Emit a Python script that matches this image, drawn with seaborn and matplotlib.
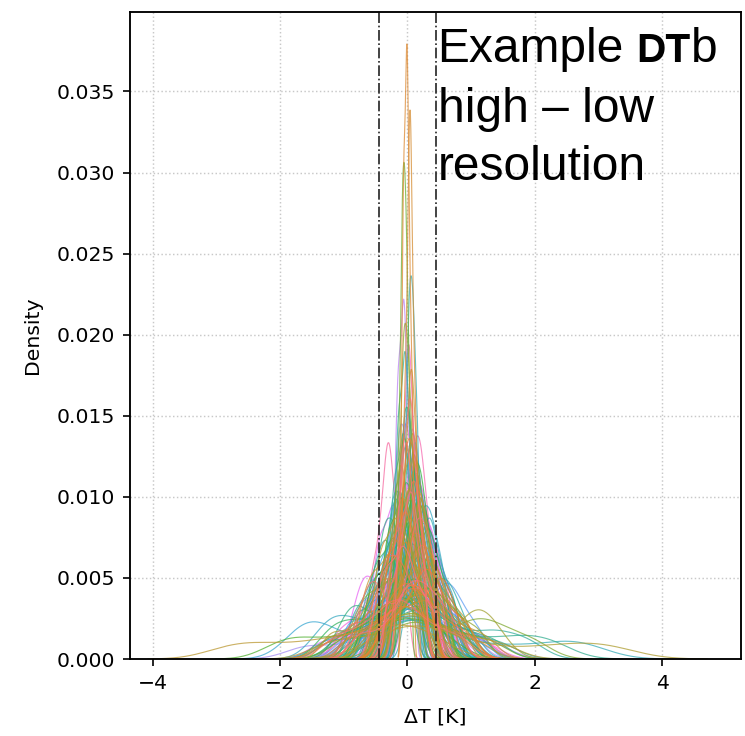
import pandas as pd
import matplotlib
matplotlib.use("Agg")
import matplotlib.pyplot as plt
import seaborn as sns

sns.set_style("ticks", {"axes.edgecolor": "black", "xtick.color": "black",
                        "ytick.color": "black", "text.color": "black",
                        "axes.labelcolor": "black"})
plt.rcParams['font.family'] = ['DejaVu Sans']
plt.rcParams['font.size'] = 9.8

# standardised sample offsets used for the "core" regions
TEMPLATES = [
    [-1.6, -1.0, -0.55, -0.2, 0.0, 0.2, 0.55, 1.0, 1.6],
    [-1.3, -0.85, -0.6, -0.15, 0.1, 0.3, 0.7, 1.15, 1.75],
    [-1.9, -1.1, -0.45, -0.3, 0.0, 0.35, 0.5, 0.95, 1.35],
]

# spread [K] of each core region (read from peak heights / widths)
CORE_SPREADS = [
    0.22, 0.30, 0.45, 0.17, 0.13, 0.25, 0.62, 0.19, 0.34,
    0.52, 0.23, 0.16, 0.41, 0.27, 0.21, 0.70, 0.055, 0.31,
    0.067, 0.24, 0.48, 0.18, 0.32, 0.28, 0.127, 0.58, 0.22,
    0.36, 0.20, 0.26, 0.85, 0.15, 0.44, 0.23, 0.29, 0.55,
    0.19, 0.34, 0.25, 0.64, 0.17, 0.105, 0.31, 0.47, 0.22,
    0.27, 0.42, 0.16, 0.24, 0.75, 0.071, 0.30, 0.21, 0.50,
    0.23, 0.33, 0.18, 0.60, 0.26, 0.20, 0.36, 0.28, 0.14,
    0.46, 0.22, 0.31, 0.17, 0.68, 0.25, 0.32, 0.21, 0.53,
    0.27, 0.15, 0.43, 0.23, 0.80, 0.19, 0.31, 0.11, 0.35,
    0.22, 0.57, 0.26, 0.29, 0.18, 0.092, 0.44, 0.24, 0.62,
    0.20, 0.34, 0.28, 0.49, 0.16, 0.23, 0.72, 0.31, 0.21,
    0.41, 0.25, 0.55, 0.18, 0.135, 0.32, 0.22, 0.47, 0.27,
    0.17, 0.66, 0.30, 0.22, 0.36, 0.24, 0.52, 0.20, 0.15,
    0.33, 0.26, 0.88, 0.19, 0.45, 0.23, 0.31, 0.094, 0.58,
    0.21, 0.28, 0.43, 0.16, 0.25, 0.63, 0.32, 0.22, 0.50,
    0.18, 0.35, 0.24, 0.74, 0.29, 0.20, 0.46, 0.26, 0.15,
    0.31, 0.56, 0.22, 0.117, 0.41, 0.27, 0.19, 0.68, 0.158,
    0.30, 0.23, 0.48, 0.17, 0.34, 0.25, 0.60, 0.21, 0.42,
]

# centre [K] of each core region
CORE_CENTERS = [
    0.05, -0.10, 0.12, -0.02, 0.03, 0.18, -0.15, 0.08, -0.25,
    0.10, -0.05, 0.02, 0.30, -0.12, 0.15, -0.05, -0.015, 0.22,
    0.04, -0.20, 0.05, 0.10, -0.30, 0.12, 0.06, 0.20, -0.08,
    0.35, 0.00, -0.15, 0.10, 0.07, -0.35, 0.20, -0.05, 0.15,
    -0.10, 0.25, 0.02, -0.20, 0.12, -0.04, -0.18, 0.30, 0.05,
    0.15, -0.28, -0.06, 0.20, 0.00, -0.06, 0.10, -0.12, 0.25,
    0.08, -0.22, 0.14, -0.10, 0.30, -0.03, 0.18, -0.25, -0.02,
    0.10, 0.22, -0.15, 0.05, 0.15, -0.30, 0.08, 0.18, -0.20,
    0.02, -0.08, 0.28, -0.18, 0.05, 0.12, -0.35, -0.05, 0.20,
    -0.12, 0.10, 0.25, -0.20, 0.08, 0.05, -0.10, 0.32, 0.00,
    0.15, -0.25, 0.06, 0.22, -0.05, 0.28, -0.10, 0.12, -0.18,
    0.05, -0.12, 0.18, 0.10, 0.00, -0.30, 0.20, 0.02, -0.08,
    0.12, -0.05, 0.30, -0.15, 0.08, 0.20, -0.22, 0.04, -0.10,
    0.25, -0.08, 0.10, 0.15, -0.28, 0.06, -0.15, -0.07, 0.20,
    -0.02, 0.18, -0.20, 0.08, 0.30, -0.10, 0.12, -0.25, 0.05,
    0.10, -0.15, 0.22, 0.00, -0.05, 0.16, -0.32, 0.08, -0.04,
    0.20, -0.10, 0.14, 0.02, -0.22, 0.28, 0.06, -0.05, 0.15,
    -0.12, 0.25, 0.05, -0.30, 0.10, -0.06, 0.18, 0.02, -0.20,
]

# regions with side lobes / long tails, keyed by their position in the hue order
TAIL_SAMPLES = {
    6: [-0.75, -0.6, -0.5, -0.4, -0.15, 0.0, 0.1, 0.25, 0.4],
    14: [-0.35, -0.2, -0.05, 0.05, 0.2, 0.4, 0.5, 0.6, 0.75],
    30: [-2.8, -2.25, -1.6, -1.1, -0.7, -0.35, -0.1, 0.15, 0.4],
    36: [-0.4, -0.15, 0.05, 0.3, 0.6, 1.1, 2.0, 2.7, 3.2],
    41: [-0.5, -0.2, 0.0, 0.2, 0.4, 0.9, 1.05, 1.2, 1.4],
    52: [-0.3, 0.0, 0.2, 0.5, 0.9, 1.1, 1.3, 1.6, 2.0],
    60: [-2.0, -1.6, -1.1, -0.7, -0.4, -0.1, 0.1, 0.3, 0.6],
    66: [-1.25, -1.0, -0.75, -0.5, -0.25, 0.0, 0.15, 0.3, 0.45],
    74: [-1.0, -0.85, -0.7, -0.45, -0.2, 0.0, 0.15, 0.3, 0.45],
    80: [-0.4, -0.1, 0.1, 0.3, 0.6, 1.0, 1.5, 1.9, 2.3],
    86: [-0.2, 0.0, 0.1, 0.3, 0.5, 0.8, 1.2, 1.5, 1.9],
    94: [-0.3, -0.1, 0.05, 0.2, 0.35, 0.5, 0.6, 0.7, 0.9],
    101: [-0.3, -0.1, 0.0, 0.2, 0.5, 1.0, 1.7, 2.4, 2.8],
    106: [-1.35, -1.15, -0.95, -0.7, -0.4, -0.2, 0.0, 0.3, 0.6],
    113: [-1.75, -1.55, -1.35, -1.0, -0.5, -0.2, 0.0, 0.2, 0.4],
    124: [-0.3, -0.1, 0.1, 0.3, 0.5, 0.6, 0.7, 0.85, 1.1],
    150: [-0.8, -0.7, -0.6, -0.5, -0.3, -0.1, 0.0, 0.2, 0.35],
    158: [-0.5, -0.38, -0.25, -0.1, 0.05, 0.15, 0.3, 0.45, 0.6],
}

THRESHOLD = 0.45  # K, dash-dot markers
N_REGIONS = len(CORE_SPREADS) + len(TAIL_SAMPLES)

rows = []
core = 0
for i in range(N_REGIONS):
    if i in TAIL_SAMPLES:
        vals = TAIL_SAMPLES[i]
    else:
        tpl = TEMPLATES[core % len(TEMPLATES)]
        vals = [CORE_CENTERS[core] + CORE_SPREADS[core] * t for t in tpl]
        core += 1
    for v in vals:
        rows.append((f"r{i:03d}", v))
df = pd.DataFrame(rows, columns=["region", "dT"])
order = [f"r{i:03d}" for i in range(N_REGIONS)]

fig, ax = plt.subplots(figsize=(745 / 150, 736 / 150), dpi=150)
fig.subplots_adjust(left=0.1745, right=0.9946, bottom=0.1046, top=0.9837)

ax.grid(True, linestyle=":", color="#c8c8c8", linewidth=0.7)
ax.set_axisbelow(True)

sns.kdeplot(data=df, x="dT", hue="region", hue_order=order, palette="husl",
            common_norm=True, bw_adjust=0.6, legend=False,
            linewidth=0.55, alpha=0.75, ax=ax)

ax.axvline(-THRESHOLD, color="#222222", linestyle="-.", linewidth=0.8)
ax.axvline(THRESHOLD, color="#222222", linestyle="-.", linewidth=0.8)

ax.set_xlim(-4.36, 5.24)
ax.set_ylim(0, 0.0399)
ax.set_xticks([-4, -2, 0, 2, 4])
ax.set_xlabel("ΔT [K]", labelpad=7)
ax.set_ylabel("Density", labelpad=7)
for s in ax.spines.values():
    s.set_linewidth(0.9)

# slide-style annotation
W, H = 745.0, 736.0
big = dict(family=["Liberation Sans", "DejaVu Sans"], fontsize=23, va="baseline", ha="left")
fig.text(437.5 / W, 1 - 62 / H, "Example", **big)
fig.text(636.5 / W, 1 - 62 / H, "DT", family=["Liberation Sans", "DejaVu Sans"],
         fontsize=19.5, fontweight="bold", va="baseline", ha="left")
fig.text(690.5 / W, 1 - 62 / H, "b", **big)
fig.text(438 / W, 1 - 122 / H, "high \u2013 low", **big)
fig.text(438 / W, 1 - 180 / H, "resolution", **big)

fig.savefig("out.png", dpi=150)
